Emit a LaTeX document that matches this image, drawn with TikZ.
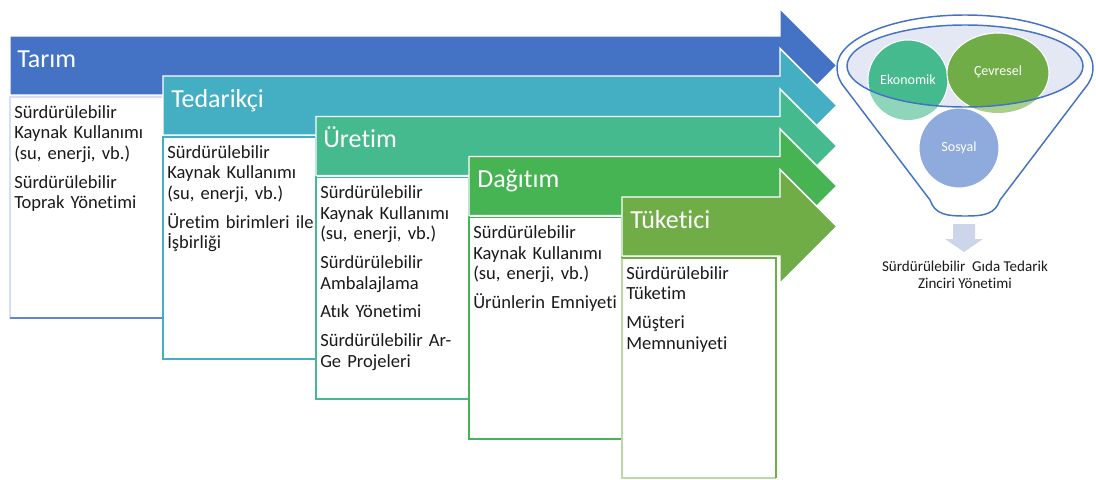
\documentclass[tikz,border=0pt]{standalone}
\usepackage{fontspec}
\setmainfont{Carlito}[Ligatures={NoCommon}]
\definecolor{cTarim}{HTML}{4472C4}
\definecolor{cTarimLight}{HTML}{D5DFF2}
\definecolor{cTedarik}{HTML}{44AEC2}
\definecolor{cUretim}{HTML}{44BA8E}
\definecolor{cDagitim}{HTML}{47B454}
\definecolor{cTuketici}{HTML}{70AD47}
\definecolor{cTuketiciLight}{HTML}{B9DAA2}
\definecolor{ekoLight}{HTML}{8FD5B9}
\definecolor{cevLight}{HTML}{A9CF8E}
\definecolor{funnelFill}{HTML}{E4E8F4}
\definecolor{sosyal}{HTML}{8FAADC}
\definecolor{downFill}{HTML}{CDD5EA}
\definecolor{bodyText}{HTML}{1A1A1A}

\begin{document}
\begin{tikzpicture}[x=0.75pt,y=-0.75pt,
  banner/.style={draw=white,line width=1.1pt},
  headtext/.style={anchor=base west,inner sep=0pt,text=white,
    font=\fontsize{19.5}{22}\selectfont},
  infobox/.style={fill=white,line width=1.1pt},
  infotext/.style={anchor=base west,inner sep=0pt,align=left,text=bodyText,
    text width=114pt,font=\fontsize{13.9}{15.5}\selectfont},
  pillar/.style={draw=white,line width=0.8pt},
  pillartext/.style={inner sep=0pt,text=white,font=\fontsize{10.5}{12}\selectfont},
  funnelline/.style={draw=cTarim,line width=1.1pt}
]
\useasboundingbox (0,0) rectangle (1096,479);

% ---- stage 1: Tarim
\path[banner,fill=cTarim] (10,36) -- (780,36) -- (780,8.5) -- (837,65.5) -- (780,122.5) -- (780,95) -- (10,95) -- cycle;
\node[headtext] (tarim) at (17,67) {Tarım};
\path[fill=white] (10,97) rectangle (163,318);
\draw[line width=1.1pt,cTarimLight] (10,318) -- (10,97) -- (163,97);
\draw[line width=1.1pt,cTarim!85] (10,318) -- (163,318);
\node[infotext] (tarimtxt) at (14,118) {Sürdürülebilir\\Kaynak Kullanımı\\(su, enerji, vb.)\\[6pt]Sürdürülebilir\\Toprak Yönetimi};

% ---- stage 2: Tedarikci
\path[banner,fill=cTedarik] (163,76) -- (780,76) -- (780,48.5) -- (837,105.5) -- (780,162.5) -- (780,135) -- (163,135) -- cycle;
\node[headtext] (tedarik) at (171,107) {Tedarikçi};
\draw[infobox,draw=cTedarik] (163,137) rectangle (316,359);
\node[infotext] (tedariktxt) at (167,158) {Sürdürülebilir\\Kaynak Kullanımı\\(su, enerji, vb.)\\[6pt]Üretim birimleri ile\\İşbirliği};

% ---- stage 3: Uretim
\path[banner,fill=cUretim] (316,116.5) -- (780,116.5) -- (780,89) -- (837,146) -- (780,203) -- (780,175.5) -- (316,175.5) -- cycle;
\node[headtext] (uretim) at (323,147.5) {Üretim};
\draw[infobox,draw=cUretim] (316,177.5) rectangle (469,399);
\node[infotext] (uretimtxt) at (320,198.5) {Sürdürülebilir\\Kaynak Kullanımı\\(su, enerji, vb.)\\[6pt]Sürdürülebilir\\Ambalajlama\\[6pt]Atık Yönetimi\\[6pt]Sürdürülebilir Ar-\\Ge Projeleri};

% ---- stage 4: Dagitim
\path[banner,fill=cDagitim] (469,156.5) -- (780,156.5) -- (780,129) -- (837,186) -- (780,243) -- (780,215.5) -- (469,215.5) -- cycle;
\node[headtext] (dagitim) at (477,187.5) {Dağıtım};
\draw[infobox,draw=cDagitim] (469,217.5) rectangle (622,439);
\node[infotext] (dagitimtxt) at (473,238.5) {Sürdürülebilir\\Kaynak Kullanımı\\(su, enerji, vb.)\\[6pt]Ürünlerin Emniyeti};

% ---- stage 5: Tuketici
\path[banner,fill=cTuketici] (622,197) -- (780,197) -- (780,169.5) -- (837,226.5) -- (780,283.5) -- (780,256) -- (622,256) -- cycle;
\node[headtext] (tuketici) at (630,228) {Tüketici};
\path[fill=white] (622,258) rectangle (776,478);
\draw[line width=1.1pt,cTuketiciLight] (622,258) -- (622,478) -- (776,478);
\draw[line width=1.1pt,cTuketici] (622,258) -- (776,258) -- (776,478);
\node[infotext] (tuketicitxt) at (626,279) {Sürdürülebilir\\Tüketim\\[6pt]Müşteri\\Memnuniyeti};

% ---- funnel outline
\draw[funnelline] (837,67) arc[start angle=180,end angle=0,x radius=96pt,y radius=39pt]
  .. controls (1093,76) and (1090,82) .. (1085,88)
  -- (1000,200) .. controls (995,214) and (985,216) .. (965,216)
  .. controls (945,216) and (935,214) .. (930,200)
  -- (845,88) .. controls (840,82) and (837,76) .. (837,67) -- cycle;

% lower halves of the pillars seen below the rim
\fill[ekoLight] (908,80) circle[radius=30pt];
\fill[cevLight] (998,73) ellipse[x radius=38.25pt,y radius=30pt];
\draw[pillar,fill=sosyal] (959,148) circle[radius=30pt];
\node[pillartext] (sosyal) at (959,148) {Sosyal};

% rim of the funnel with the pillars inside it
\fill[funnelFill] (965,66) ellipse[x radius=88.5pt,y radius=30.75pt];
\begin{scope}
  \clip (965,66) ellipse[x radius=88.5pt,y radius=30.75pt];
  \draw[pillar,fill=cUretim] (908,80) circle[radius=30pt];
  \draw[pillar,fill=cTuketici] (998,73) ellipse[x radius=38.25pt,y radius=30pt];
\end{scope}
\node[pillartext] (ekonomik) at (908,80) {Ekonomik};
\node[pillartext] (cevresel) at (998,72) {Çevresel};
\draw[funnelline] (965,66) ellipse[x radius=88.5pt,y radius=30.75pt];

% output arrow and caption
\coordinate (spout) at (964,224);
\fill[downFill] (953,224) -- (975,224) -- (975,239) -- (983,239) -- (964,252) -- (945,239) -- (953,239) -- cycle;
\node[align=center,inner sep=0pt,text=bodyText,font=\fontsize{11.3}{12.5}\selectfont] (caption) at (965,275) {Sürdürülebilir\ \ Gıda Tedarik\\Zinciri Yönetimi};
\end{tikzpicture}
\end{document}
